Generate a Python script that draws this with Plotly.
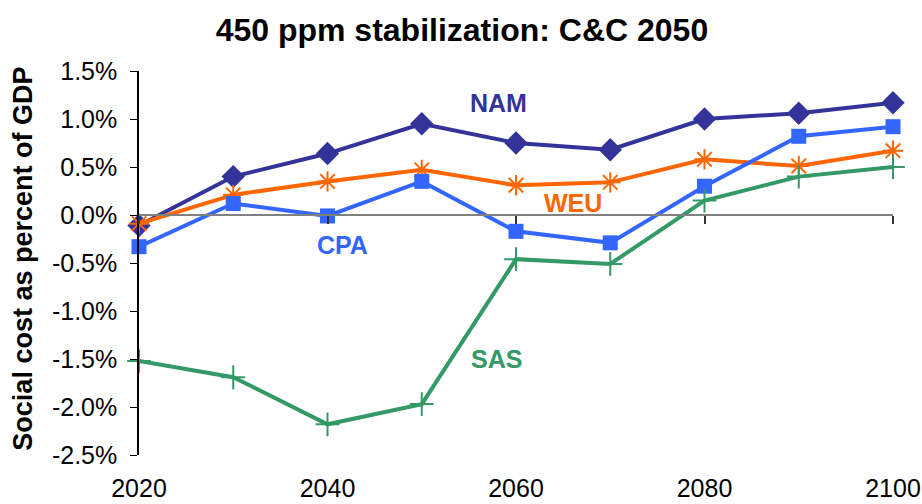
import plotly.graph_objects as go

years = [2020, 2030, 2040, 2050, 2060, 2070, 2080, 2090, 2100]
nam = [-0.11, 0.40, 0.64, 0.95, 0.75, 0.68, 1.00, 1.06, 1.17]
weu = [-0.09, 0.21, 0.35, 0.47, 0.31, 0.34, 0.58, 0.51, 0.67]
cpa = [-0.33, 0.12, -0.01, 0.35, -0.17, -0.29, 0.30, 0.82, 0.92]
sas = [-1.52, -1.69, -2.18, -1.97, -0.46, -0.51, 0.15, 0.40, 0.50]

ytick_vals = [-2.5, -2.0, -1.5, -1.0, -0.5, 0.0, 0.5, 1.0, 1.5]
ytick_text = ["-2.5%", "-2.0%", "-1.5%", "-1.0%", "-0.5%", "0.0%", "0.5%", "1.0%", "1.5%"]
xtick_vals = [2020, 2040, 2060, 2080, 2100]

series = [
    ("NAM", nam, "#333399", dict(symbol="diamond", size=18)),
    ("WEU", weu, "#FF6600", dict(symbol="asterisk-open", size=17, line=dict(width=2, color="#FF6600"))),
    ("CPA", cpa, "#3366FF", dict(symbol="square", size=15)),
    ("SAS", sas, "#339966", dict(symbol="cross-thin-open", size=17, line=dict(width=2, color="#339966"))),
]

label_pos = {"NAM": (2058.1, 1.17), "WEU": (2066.1, 0.13), "CPA": (2041.6, -0.31), "SAS": (2057.9, -1.50)}

fig = go.Figure()
for name, vals, color, marker in series:
    fig.add_trace(go.Scatter(x=years, y=vals, mode="lines+markers", name=name,
                             line=dict(color=color, width=4),
                             marker=dict(color=color, **marker),
                             cliponaxis=False, showlegend=False))
    lx, ly = label_pos[name]
    fig.add_annotation(x=lx, y=ly, text=f"<b>{name}</b>", showarrow=False,
                       font=dict(family="Liberation Sans", size=25, color=color))

# invisible trace to carry the zero-crossing axis
fig.add_trace(go.Scatter(x=[2020, 2100], y=[0, 0], xaxis="x2", mode="lines",
                         line=dict(width=0), hoverinfo="skip", showlegend=False))

# y-axis title
fig.add_annotation(xref="paper", yref="paper", x=-0.154, y=0.511, xanchor="center", yanchor="middle",
                   text="<b>Social cost as percent of GDP</b>", textangle=-90, showarrow=False,
                   font=dict(family="Liberation Sans", size=27, color="black"))

fig.update_layout(
    width=922, height=504,
    margin=dict(l=139, r=29, t=71, b=49),
    paper_bgcolor="white", plot_bgcolor="white",
    font=dict(family="Liberation Sans", color="black"),
    title=dict(text="<b>450 ppm stabilization: C&C 2050</b>", x=0.501, xanchor="center",
               xref="container", yref="container",
               y=0.94, yanchor="middle", font=dict(size=32, color="black")),
    xaxis=dict(range=[2020, 2100], tickvals=xtick_vals, showline=False, showgrid=False,
               zeroline=False, ticks="outside", ticklen=0, ticklabelstandoff=11,
               tickfont=dict(size=25), automargin=False),
    xaxis2=dict(range=[2020, 2100], overlaying="x", anchor="free", position=0.625,
                side="bottom", showline=True, linecolor="#808080", linewidth=2,
                showgrid=False, zeroline=False, ticks="outside", ticklen=8,
                tickcolor="#333333", tickwidth=1.5, tickvals=xtick_vals, showticklabels=False,
                automargin=False),
    yaxis=dict(range=[-2.5, 1.5], tickvals=ytick_vals, ticktext=ytick_text,
               showline=True, linecolor="black", linewidth=1.5, showgrid=False,
               zeroline=False, ticks="outside", ticklen=7, tickcolor="black",
               ticklabelstandoff=8, tickfont=dict(size=25), automargin=False),
)

fig.write_html("out.html", config={"displayModeBar": False},
               post_script="document.body.style.margin='0';document.body.style.overflow='hidden';")
